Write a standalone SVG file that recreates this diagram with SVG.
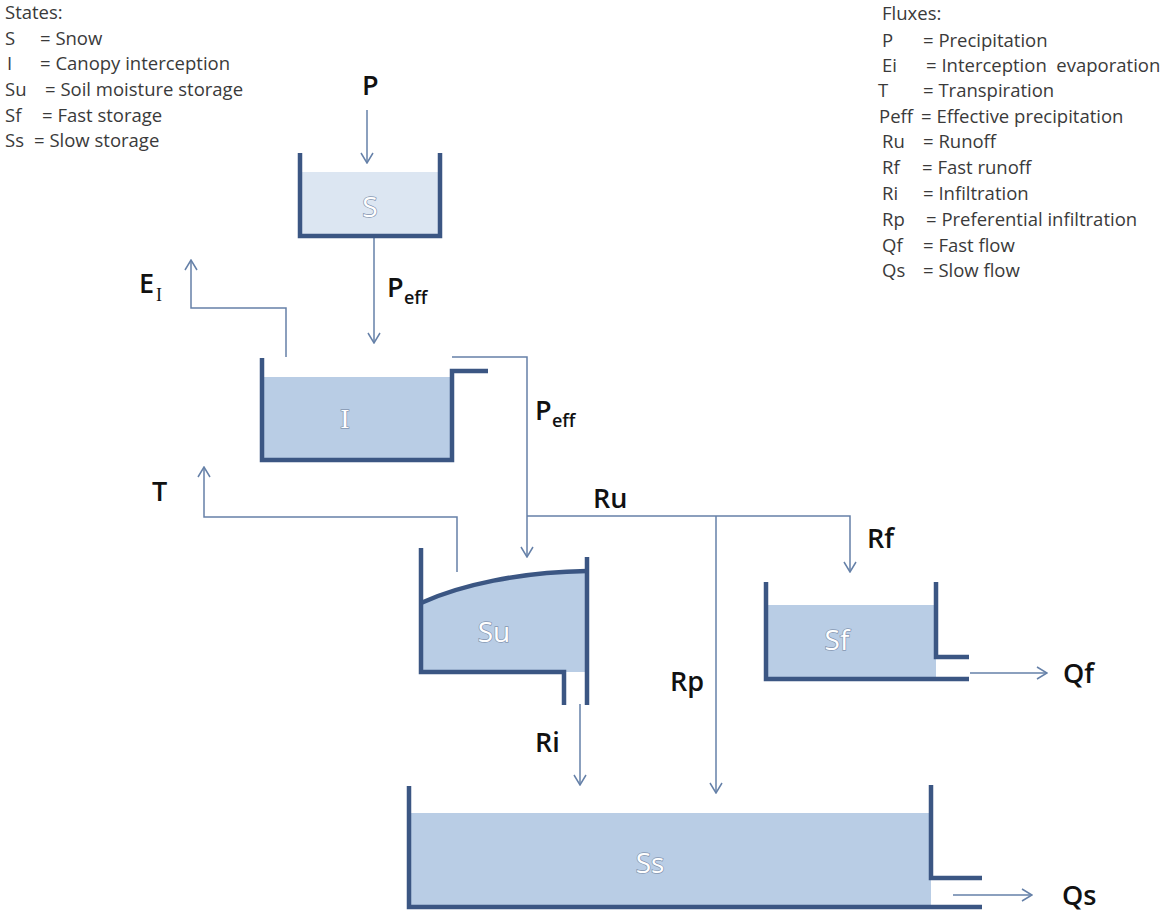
<svg xmlns="http://www.w3.org/2000/svg" width="1165" height="917" viewBox="0 0 1165 917">
<defs>
<style>
.leg{font-family:"Open Sans","Liberation Sans",sans-serif;font-size:18.5px;fill:#3a3a3a}
.lab{font-family:"Open Sans","Liberation Sans",sans-serif;font-size:27px;font-weight:600;fill:#111}
.sub{font-family:"Open Sans","Liberation Sans",sans-serif;font-size:18px;font-weight:600;fill:#111}
.tl{font-family:"Open Sans","Liberation Sans",sans-serif;font-size:28px;fill:#fff;text-anchor:middle;stroke:#8596b0;stroke-width:1.4;paint-order:stroke}
.wall{fill:none;stroke:#3b5683;stroke-width:4.5;stroke-linecap:butt}
.f1{fill:#dce6f2}
.f2{fill:#b9cde5}
.con{fill:none;stroke:#6580a8;stroke-width:1.5}
</style>
<marker id="ah" viewBox="0 0 12 14" refX="11" refY="7" markerWidth="12" markerHeight="14" markerUnits="userSpaceOnUse" orient="auto">
<path d="M1,1 L11,7 L1,13" fill="none" stroke="#6580a8" stroke-width="1.5"/>
</marker>
</defs>
<rect width="1165" height="917" fill="#fff"/>

<g id="legend-states">
<text class="leg" x="5" y="19">States:</text>
<text class="leg" x="5" y="45">S</text><text class="leg" x="40" y="45">= Snow</text>
<text class="leg" x="7" y="70">I</text><text class="leg" x="40" y="70">= Canopy interception</text>
<text class="leg" x="5" y="96">Su</text><text class="leg" x="45" y="96">= Soil moisture storage</text>
<text class="leg" x="5" y="122">Sf</text><text class="leg" x="42" y="122">= Fast storage</text>
<text class="leg" x="5" y="147">Ss</text><text class="leg" x="34" y="147">= Slow storage</text>
</g>

<g id="legend-fluxes">
<text class="leg" x="882" y="20">Fluxes:</text>
<text class="leg" x="882" y="47">P</text><text class="leg" x="923" y="47">= Precipitation</text>
<text class="leg" x="882" y="72">Ei</text><text class="leg" x="926" y="72" xml:space="preserve">= Interception  evaporation</text>
<text class="leg" x="878" y="97">T</text><text class="leg" x="923" y="97">= Transpiration</text>
<text class="leg" x="879" y="123">Peff</text><text class="leg" x="921" y="123">= Effective precipitation</text>
<text class="leg" x="882" y="148">Ru</text><text class="leg" x="923" y="148">= Runoff</text>
<text class="leg" x="882" y="174">Rf</text><text class="leg" x="922" y="174">= Fast runoff</text>
<text class="leg" x="882" y="200">Ri</text><text class="leg" x="923" y="200">= Infiltration</text>
<text class="leg" x="882" y="226">Rp</text><text class="leg" x="926" y="226">= Preferential infiltration</text>
<text class="leg" x="882" y="252">Qf</text><text class="leg" x="923" y="252">= Fast flow</text>
<text class="leg" x="882" y="277">Qs</text><text class="leg" x="923" y="277">= Slow flow</text>
</g>

<g id="connectors">
<path class="con" d="M367,110 V163" marker-end="url(#ah)"/>
<path class="con" d="M374,236 V343" marker-end="url(#ah)"/>
<path class="con" d="M286,357 V308 H191 V260" marker-end="url(#ah)"/>
<path class="con" d="M452,357 H527 V557" marker-end="url(#ah)"/>
<path class="con" d="M457,572 V517 H204 V467" marker-end="url(#ah)"/>
<path class="con" d="M527,516 H850 V572" marker-end="url(#ah)"/>
<path class="con" d="M716,516 V793" marker-end="url(#ah)"/>
<path class="con" d="M580,704 V785" marker-end="url(#ah)"/>
<path class="con" d="M970,673 H1047" marker-end="url(#ah)"/>
<path class="con" d="M953,895 H1032" marker-end="url(#ah)"/>
</g>

<g id="flux-labels">
<text class="lab" x="362" y="95">P</text>
<text class="lab" x="387" y="297">P<tspan class="sub" x="404" y="304">eff</tspan></text>
<text class="lab" x="535" y="420">P<tspan class="sub" x="552" y="427">eff</tspan></text>
<text class="lab" x="139" y="293">E<tspan x="156" y="301" style="font-family:'Liberation Serif',serif;font-size:18px;font-weight:normal">I</tspan></text>
<text class="lab" x="152" y="501">T</text>
<text class="lab" x="593" y="508">Ru</text>
<text class="lab" x="867" y="548">Rf</text>
<text class="lab" x="670" y="691">Rp</text>
<text class="lab" x="535" y="752">Ri</text>
<text class="lab" x="1063" y="683">Qf</text>
<text class="lab" x="1062" y="905">Qs</text>
</g>

<g id="node-S">
<rect class="f1" x="302" y="172" width="136" height="62"/>
<path class="wall" d="M300,153 V236 H440 V153"/>
<text class="tl" x="370" y="217">S</text>
</g>

<g id="node-I">
<rect class="f2" x="264" y="377" width="188" height="82"/>
<path class="wall" d="M262,358 V460 H452 V371 H488"/>
<text class="tl" x="345" y="428" style="font-family:'Liberation Serif',serif">I</text>
</g>

<g id="node-Su">
<path class="f2" d="M421,603 C460,585 520,572 587,571 V672 H421 Z"/>
<path class="wall" d="M421,548 V672 H564 V705"/>
<path class="wall" d="M587,557 V705"/>
<path class="wall" d="M421,603 C460,585 520,572 587,571"/>
<text class="tl" x="494" y="642">Su</text>
</g>

<g id="node-Sf">
<rect class="f2" x="767" y="605" width="169" height="73"/>
<path class="wall" d="M766,582 V679 H969"/>
<path class="wall" d="M936,582 V657 H969"/>
<text class="tl" x="837" y="650">Sf</text>
</g>

<g id="node-Ss">
<rect class="f2" x="410" y="813" width="521" height="93"/>
<path class="wall" d="M409,786 V907 H982"/>
<path class="wall" d="M931,785 V878 H982"/>
<text class="tl" x="650" y="873">Ss</text>
</g>
</svg>
